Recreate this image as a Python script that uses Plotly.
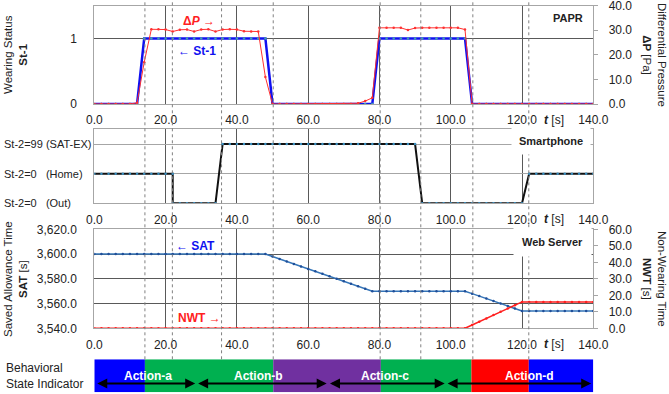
import plotly.graph_objects as go

# ---------------- data ----------------
t_s = [0, 2, 4, 6, 8, 10, 12, 14, 16, 18, 20, 22, 24, 26, 28, 30, 32, 34, 36, 38, 40,
       42, 44, 46, 48, 50, 52, 54, 56, 58, 60, 62, 64, 66, 68, 70, 72, 74, 76, 78, 80,
       82, 84, 86, 88, 90, 92, 94, 96, 98, 100, 102, 104, 106, 108, 110, 112, 114, 116,
       118, 120, 122, 124, 126, 128, 130, 132, 134, 136, 138, 140]

st1 = [0, 0, 0, 0, 0, 0, 0, 1, 1, 1, 1, 1, 1, 1, 1, 1, 1, 1, 1, 1, 1,
       1, 1, 1, 1, 0, 0, 0, 0, 0, 0, 0, 0, 0, 0, 0, 0, 0, 0, 0, 1,
       1, 1, 1, 1, 1, 1, 1, 1, 1, 1, 1, 1, 0, 0, 0, 0, 0, 0,
       0, 0, 0, 0, 0, 0, 0, 0, 0, 0, 0, 0]

dp = [0, 0, 0, 0, 0, 0, 0.5, 17.0, 30.4, 30.4, 30.3, 29.5, 30.2, 30.3, 29.5, 30.3, 30.4, 29.5, 30.3, 30.4, 30.3,
      29.6, 29.5, 29.5, 11.0, 0, 0, 0, 0, 0, 0, 0, 0, 0, 0, 0, 0, 0.3, 1.2, 2.5, 31.0,
      31.0, 31.0, 31.0, 30.1, 30.9, 31.0, 31.0, 31.0, 31.0, 31.0, 31.0, 30.3, 0, 0, 0, 0, 0, 0,
      0, 0, 0, 0, 0, 0, 0, 0, 0, 0, 0, 0]

# St-2 levels: 0 = Out, 1 = Home, 2 = SAT-EX
t_st2 = [0, 2, 4, 6, 8, 10, 12, 14, 16, 18, 20, 22,
         22, 24, 26, 28, 30, 32, 34,
         36, 38, 40, 42, 44, 46, 48, 50, 52, 54, 56, 58, 60, 62, 64, 66, 68, 70, 72, 74,
         76, 78, 80, 82, 84, 86, 88, 90,
         92, 94, 96, 98, 100, 102, 104, 106, 108, 110, 112, 114, 116, 118, 120,
         122, 124, 126, 128, 130, 132, 134, 136, 138, 140]
st2 = [1, 1, 1, 1, 1, 1, 1, 1, 1, 1, 1, 1,
       0, 0, 0, 0, 0, 0, 0,
       2, 2, 2, 2, 2, 2, 2, 2, 2, 2, 2, 2, 2, 2, 2, 2, 2, 2, 2, 2,
       2, 2, 2, 2, 2, 2, 2, 2,
       0, 0, 0, 0, 0, 0, 0, 0, 0, 0, 0, 0, 0, 0, 0,
       1, 1, 1, 1, 1, 1, 1, 1, 1, 1]
st2_labels = ["St-2=0\u00a0\u00a0\u00a0(Out)", "St-2=0\u00a0\u00a0\u00a0(Home)", "St-2=99 (SAT-EX)"]

sat = [3600, 3600, 3600, 3600, 3600, 3600, 3600, 3600, 3600, 3600, 3600, 3600, 3600, 3600, 3600,
       3600, 3600, 3600, 3600, 3600, 3600, 3600, 3600, 3600, 3600,
       3598, 3596, 3594, 3592, 3590, 3588, 3586, 3584, 3582, 3580, 3578, 3576, 3574, 3572, 3570,
       3570, 3570, 3570, 3570, 3570, 3570, 3570, 3570, 3570, 3570, 3570, 3570, 3570,
       3568, 3566, 3564, 3562, 3560, 3558, 3556, 3554,
       3554, 3554, 3554, 3554, 3554, 3554, 3554, 3554, 3554, 3554]

nwt = [0, 0, 0, 0, 0, 0, 0, 0, 0, 0, 0, 0, 0, 0, 0, 0, 0, 0, 0, 0, 0,
       0, 0, 0, 0, 0, 0, 0, 0, 0, 0, 0, 0, 0, 0, 0, 0, 0, 0, 0, 0,
       0, 0, 0, 0, 0, 0, 0, 0, 0, 0, 0, 0,
       2, 4, 6, 8, 10, 12, 14, 16,
       16, 16, 16, 16, 16, 16, 16, 16, 16, 16]

event_times = [14.2, 21.9, 35.7, 50.2, 80.2, 91.6, 106.2, 121.9]

state_bounds = [0, 14.2, 50.2, 80.4, 105.8, 121.9, 140]
state_colors = ["#0000FF", "#00B050", "#7030A0", "#00B050", "#FF0000", "#0000FF"]
action_names = ["Action-a", "Action-b", "Action-c", "Action-d"]
action_label_x = [15.0, 46.2, 81.6, 122.0]
action_spans = [(0.4, 28.3), (28.7, 65.2), (65.7, 98.3), (98.7, 139.4)]

x_ticks = [0, 20, 40, 60, 80, 100, 120, 140]

# ---------------- layout helpers ----------------
W, H = 669, 394
FONT = "Liberation Sans, Arial, sans-serif"


def px(x):
    return x / W


def py(y):
    return 1 - y / H


XD = [px(94.3), px(593.3)]
D1 = [py(104), py(5.7)]
D2 = [py(203.3), py(129.3)]
D3 = [py(328.3), py(229.3)]
D4 = [py(392.3), py(359.3)]

GRID = "#595959"
LGRID = "#A6A6A6"
BORDER = "#A6A6A6"
TXT = "#222222"

fig = go.Figure()

# panel 1
fig.add_trace(go.Scatter(x=t_s, y=dp, mode="lines+markers", xaxis="x", yaxis="y2",
                         line=dict(color="#FF3030", width=1),
                         marker=dict(color="#FF3030", size=2.5), showlegend=False))
fig.add_trace(go.Scatter(x=t_s, y=st1, mode="lines+markers", xaxis="x", yaxis="y",
                         line=dict(color="#1010F0", width=2.5),
                         marker=dict(color="#3FA0B0", size=2.5), showlegend=False))
# panel 2
fig.add_trace(go.Scatter(x=t_st2, y=st2, mode="lines+markers", xaxis="x2", yaxis="y3",
                         line=dict(color="#111111", width=2),
                         marker=dict(color="#3A8FC0", size=2.5), showlegend=False))
# panel 3
fig.add_trace(go.Scatter(x=t_s, y=sat, mode="lines+markers", xaxis="x3", yaxis="y4",
                         line=dict(color="#3575B8", width=1.5),
                         marker=dict(color="#1F4E99", size=2.5), showlegend=False))
fig.add_trace(go.Scatter(x=t_s, y=nwt, mode="lines+markers", xaxis="x3", yaxis="y5",
                         line=dict(color="#FF2020", width=1.5),
                         marker=dict(color="#FF2020", size=2.5), showlegend=False))
# behavioral state bar
durations = [b - a for a, b in zip(state_bounds[:-1], state_bounds[1:])]
fig.add_trace(go.Bar(x=durations, base=state_bounds[:-1], y=[0] * len(durations),
                     orientation="h", width=1, marker=dict(color=state_colors, line=dict(width=0)),
                     xaxis="x4", yaxis="y6", showlegend=False, hoverinfo="skip"))

xcommon = dict(domain=XD, range=[0, 140], tickvals=x_ticks, tickformat=".1f",
               showgrid=True, gridcolor=GRID, gridwidth=1, zeroline=False,
               showline=True, mirror=True, linecolor=BORDER, linewidth=1, automargin=False,
               ticklabeloverflow="allow",
               ticks="", ticklabelstandoff=5, tickfont=dict(size=12, color=TXT, family=FONT))

layout = dict(
    width=W, height=H, autosize=False,
    margin=dict(l=0, r=0, t=0, b=0, pad=0, autoexpand=False),
    paper_bgcolor="white", plot_bgcolor="white",
    font=dict(family=FONT, size=12, color=TXT),
    barmode="overlay",
    xaxis=dict(anchor="y", **xcommon),
    xaxis2=dict(anchor="y3", **xcommon),
    xaxis3=dict(anchor="y4", **xcommon),
    xaxis4=dict(domain=XD, anchor="y6", range=[0, 140], visible=False, automargin=False),
    yaxis=dict(domain=D1, anchor="x", range=[0, 1.5], tickvals=[0, 1], automargin=False,
               showgrid=True, gridcolor=GRID, zeroline=False, showline=True, mirror=True,
               linecolor=BORDER, ticks="", ticklabelstandoff=14, ticklabeloverflow="allow",
               tickfont=dict(size=12, color=TXT)),
    yaxis2=dict(anchor="x", overlaying="y", side="right", range=[0, 40], dtick=10,
                tickformat=".1f", showgrid=False, zeroline=False, ticks="outside",
                ticklen=4, tickcolor=BORDER, ticklabelstandoff=8, automargin=False,
                ticklabeloverflow="allow", tickfont=dict(size=12, color=TXT)),
    yaxis3=dict(domain=D2, anchor="x2", range=[0, 2.5], tickvals=[0, 1, 2], automargin=False,
                showticklabels=False, showgrid=True, gridcolor=LGRID, zeroline=False,
                showline=True, mirror=True, linecolor=BORDER, ticks=""),
    yaxis4=dict(domain=D3, anchor="x3", range=[3540, 3620], dtick=20, tickformat=",.1f",
                showgrid=True, gridcolor=GRID, zeroline=False, showline=True, mirror=True,
                linecolor=BORDER, ticks="", ticklabelstandoff=14, automargin=False,
                ticklabeloverflow="allow", tickfont=dict(size=12, color=TXT)),
    yaxis5=dict(anchor="x3", overlaying="y4", side="right", range=[0, 60], dtick=10,
                tickformat=".1f", showgrid=False, zeroline=False, ticks="outside",
                ticklen=4, tickcolor=BORDER, ticklabelstandoff=8, automargin=False,
                ticklabeloverflow="allow", tickfont=dict(size=12, color=TXT)),
    yaxis6=dict(domain=D4, anchor="x4", range=[-0.5, 0.5], visible=False, automargin=False),
)
fig.update_layout(**layout)

# event dotted lines
shapes = []
for et in event_times:
    shapes.append(dict(type="line", xref="x", yref="paper", x0=et, x1=et,
                       y0=D4[1], y1=0.998, line=dict(color="#808080", width=1, dash="dot"),
                       layer="above"))
fig.update_layout(shapes=shapes)

ann = []


def lab(x, y, text, size=12, color=TXT, angle=0, **kw):
    d = dict(xref="paper", yref="paper", x=px(x), y=py(y), text=text, textangle=angle,
             xanchor="center", yanchor="middle", showarrow=False,
             font=dict(size=size, color=color))
    d.update(kw)
    ann.append(d)


# axis-title style labels
lab(15, 55, "Wearing Status<br><b>St-1</b>", size=11.5, angle=-90)
lab(655, 55, "Differential Pressure<br><b>ΔP</b> [Pa]", size=11.5, angle=90)
lab(15, 279, "Saved Allowance Time<br><b>SAT</b> [s]", size=11.5, angle=-90)
lab(655, 279, "Non-Wearing Time<br><b>NWT</b> [s]", size=11.5, angle=90)
lab(4, 376, "Behavioral<br>State Indicator", xanchor="left", align="left")
# St-2 level labels
for lvl, lbl in enumerate(st2_labels):
    ann.append(dict(xref="paper", yref="y3", x=px(1.5), y=lvl, xanchor="left", yanchor="middle",
                    text=lbl, showarrow=False, font=dict(size=11, color=TXT)))
# t [s] labels
for yy in (120, 219, 344):
    lab(554, yy, "<b><i>t</i></b> [s]")
# panel names
lab(568, 18, "<b>PAPR</b>", size=11)
lab(551, 140.5, "<b>Smartphone</b>", size=11, bgcolor="white", borderpad=7)
lab(552, 242, "<b>Web Server</b>", size=11, bgcolor="white", borderpad=8)
# series labels
lab(199, 21, "<b>Δ<i>P</i> →</b>", color="#FF2020")
lab(197, 51, "<b>← St-1</b>", color="#1010F0")
lab(196, 246, "<b>← SAT</b>", color="#1010F0")
lab(199, 318, "<b>NWT →</b>", color="#FF2020")

# behavioral arrows and names
for (a, b) in action_spans:
    ann.append(dict(xref="x4", yref="y6", axref="x4", ayref="y6", x=b, y=-0.23, ax=a, ay=-0.23,
                    text="", showarrow=True, arrowhead=2, arrowside="end+start",
                    arrowsize=1, arrowwidth=2, arrowcolor="black"))
for name, xx in zip(action_names, action_label_x):
    ann.append(dict(xref="x4", yref="y6", x=xx, y=0.0, text="<b>" + name + "</b>",
                    xanchor="center", yanchor="middle",
                    showarrow=False, font=dict(size=12, color="white")))
fig.update_layout(annotations=ann)

fig.write_html("out.html")
